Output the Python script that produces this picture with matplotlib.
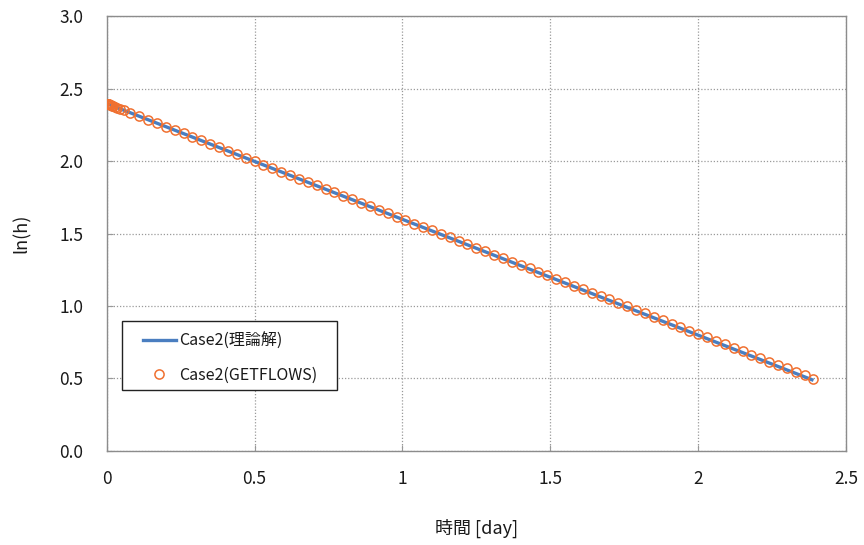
import matplotlib
matplotlib.use("Agg")
import matplotlib.pyplot as plt
from matplotlib.lines import Line2D
from matplotlib.patches import Rectangle

plt.rcParams['font.family'] = ['Noto Sans CJK JP', 'DejaVu Sans']

# Theoretical solution (straight line in ln(h))
theory_t = [0.0, 2.39]
theory_lnh = [2.398, 0.486]

# GETFLOWS results
gf_t = [0.0, 0.001, 0.002, 0.003, 0.005, 0.007, 0.010, 0.013, 0.017, 0.022,
        0.028, 0.035, 0.045, 0.060, 0.080,
        0.11, 0.14, 0.17, 0.20, 0.23, 0.26, 0.29, 0.32, 0.35, 0.38,
        0.41, 0.44, 0.47, 0.50, 0.53, 0.56, 0.59, 0.62, 0.65, 0.68,
        0.71, 0.74, 0.77, 0.80, 0.83, 0.86, 0.89, 0.92, 0.95, 0.98,
        1.01, 1.04, 1.07, 1.10, 1.13, 1.16, 1.19, 1.22, 1.25, 1.28,
        1.31, 1.34, 1.37, 1.40, 1.43, 1.46, 1.49, 1.52, 1.55, 1.58,
        1.61, 1.64, 1.67, 1.70, 1.73, 1.76, 1.79, 1.82, 1.85, 1.88,
        1.91, 1.94, 1.97, 2.00, 2.03, 2.06, 2.09, 2.12, 2.15, 2.18,
        2.21, 2.24, 2.27, 2.30, 2.33, 2.36, 2.39]
gf_lnh = [2.398, 2.397, 2.396, 2.396, 2.394, 2.392, 2.390, 2.388, 2.384, 2.380,
          2.376, 2.370, 2.362, 2.350, 2.334,
          2.310, 2.286, 2.262, 2.239, 2.215, 2.191, 2.167, 2.143, 2.119, 2.095,
          2.071, 2.047, 2.023, 1.999, 1.975, 1.951, 1.927, 1.903, 1.879, 1.856,
          1.832, 1.808, 1.784, 1.760, 1.736, 1.712, 1.688, 1.664, 1.640, 1.616,
          1.593, 1.569, 1.545, 1.521, 1.497, 1.473, 1.449, 1.425, 1.402, 1.378,
          1.354, 1.330, 1.306, 1.283, 1.259, 1.235, 1.211, 1.187, 1.164, 1.140,
          1.116, 1.092, 1.068, 1.045, 1.021, 0.997, 0.973, 0.949, 0.926, 0.902,
          0.878, 0.854, 0.830, 0.807, 0.783, 0.759, 0.735, 0.711, 0.688, 0.664,
          0.640, 0.616, 0.592, 0.569, 0.545, 0.521, 0.497]

x_ticks = [0, 0.5, 1, 1.5, 2, 2.5]
x_ticklabels = ["0", "0.5", "1", "1.5", "2", "2.5"]
y_ticks = [0.0, 0.5, 1.0, 1.5, 2.0, 2.5, 3.0]
y_ticklabels = ["0.0", "0.5", "1.0", "1.5", "2.0", "2.5", "3.0"]

label_line = "Case2(理論解)"
label_pts = "Case2(GETFLOWS)"

blue = "#4A7EC0"
orange = "#F07030"
txt = '#1a1a1a'

fig = plt.figure(figsize=(8.64, 5.45), dpi=100)
ax = fig.add_axes([0.1235, 0.173, 0.8557, 0.797])

ax.plot(theory_t, theory_lnh, color=blue, lw=2.4, solid_capstyle='butt', zorder=2)
ax.plot(gf_t, gf_lnh, ls='none', marker='o', ms=6.6, mfc='none', mec=orange,
        mew=1.1, zorder=3)

ax.set_xlim(0, 2.5)
ax.set_ylim(0, 3.0)
ax.set_xticks(x_ticks)
ax.set_xticklabels(x_ticklabels)
ax.set_yticks(y_ticks)
ax.set_yticklabels(y_ticklabels)
ax.tick_params(direction='in', length=4, width=0.8, color='#999999',
               labelsize=12.5, labelcolor=txt)
ax.tick_params(axis='y', pad=17)
ax.tick_params(axis='x', pad=14)
ax.grid(True, color='#9a9a9a', ls=(0, (1, 1.5)), lw=0.9)
for s in ax.spines.values():
    s.set_color('#8c8c8c')
    s.set_linewidth(1.0)

ax.set_xlabel("時間 [day]", fontsize=13, color=txt, labelpad=22)
ax.set_ylabel("ln(h)", fontsize=13, color=txt, labelpad=20)

# Legend: frame drawn as a rectangle, content placed inside
frame = Rectangle((0.0203, 0.1397), 0.291, 0.159, transform=ax.transAxes,
                  facecolor='white', edgecolor='#222222', lw=1.0, zorder=4.5,
                  clip_on=False)
ax.add_patch(frame)

handles = [Line2D([], [], color=blue, lw=2.4),
           Line2D([], [], ls='none', marker='o', ms=6.6, mfc='none', mec=orange, mew=1.1)]
leg = ax.legend(handles, [label_line, label_pts], loc='upper left',
                bbox_to_anchor=(0.0491, 0.272), fontsize=11.5, frameon=False,
                borderpad=0, labelspacing=1.05, handlelength=2.06,
                handletextpad=0.2, borderaxespad=0)
leg.set_zorder(5)
for t in leg.get_texts():
    t.set_color(txt)

fig.savefig("out.png", dpi=100)
